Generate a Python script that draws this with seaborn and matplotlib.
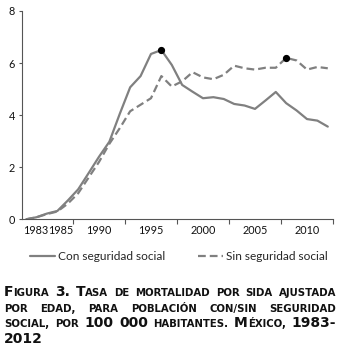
import numpy as np
import pandas as pd
import matplotlib
matplotlib.use('Agg')
import matplotlib.pyplot as plt
import seaborn as sns
from matplotlib.lines import Line2D

# Tasa de mortalidad por sida ajustada por edad (por 100 000 habitantes)
years = list(range(1983, 2013))
con_seguridad = [0.0, 0.08, 0.22, 0.32, 0.72, 1.15, 1.77, 2.4, 2.98, 4.05,
                 5.07, 5.5, 6.35, 6.5, 5.93, 5.16, 4.9, 4.65, 4.69, 4.62,
                 4.43, 4.37, 4.24, 4.56, 4.89, 4.46, 4.18, 3.85, 3.79, 3.56]
sin_seguridad = [0.0, 0.08, 0.2, 0.3, 0.6, 1.0, 1.6, 2.2, 2.9, 3.5,
                 4.15, 4.4, 4.65, 5.5, 5.1, 5.3, 5.65, 5.45, 5.38, 5.55,
                 5.9, 5.8, 5.75, 5.82, 5.82, 6.2, 6.1, 5.75, 5.85, 5.8]
peak_con = 1996
peak_sin = 2008

tick_labels = ['1983', '1985', '1990', '1995', '2000', '2005', '2010']
tick_pos = [1983.9, 1986.3, 1990, 1995, 2000, 2005, 2010]

df = pd.DataFrame({'year': years, 'con': con_seguridad, 'sin': sin_seguridad})

sns.set_style('white')
plt.rcParams['font.family'] = ['Lato', 'DejaVu Sans']

fig = plt.figure(figsize=(3.41, 3.57), dpi=100)
ax = fig.add_axes([0.0645, 0.3857, 0.912, 0.5835])

line_color = '#808080'
sns.lineplot(data=df, x='year', y='con', ax=ax, color=line_color, lw=1.6)
sns.lineplot(data=df, x='year', y='sin', ax=ax, color=line_color, lw=1.6,
             linestyle=(0, (3.5, 1.8)))
ax.plot([peak_con], [df.loc[df.year == peak_con, 'con'].iloc[0]], 'o', color='black', ms=4.2, zorder=5)
ax.plot([peak_sin], [df.loc[df.year == peak_sin, 'sin'].iloc[0]], 'o', color='black', ms=4.2, zorder=5)

ax.set_xlim(1982.6, 2012.5)
ax.set_ylim(0, 8)
ax.set_xlabel('')
ax.set_ylabel('')
ax.set_yticks([0, 2, 4, 6, 8])
ax.set_xticks(tick_pos)
ax.set_xticklabels(tick_labels)
ax.set_xticks([1987.5, 1992.5, 1997.5, 2002.5, 2007.5, 2012.5], minor=True)
ax.tick_params(axis='x', which='major', length=0, pad=4, labelsize=7.8, colors='#111111')
ax.tick_params(axis='x', which='minor', length=3.5, width=0.8, color='#555555', direction='out', bottom=True)
ax.tick_params(axis='y', length=2.2, width=0.8, color='#555555', pad=3, labelsize=7.8,
               labelcolor='#111111', direction='out', left=True)
sns.despine(ax=ax)
for side in ['left', 'bottom']:
    ax.spines[side].set_color('#555555')
    ax.spines[side].set_linewidth(0.8)

handles = [Line2D([], [], color=line_color, lw=1.6),
           Line2D([], [], color=line_color, lw=1.6, linestyle=(0, (3.5, 1.8)))]
fig.legend(handles, ['Con seguridad social', 'Sin seguridad social'],
           loc='center', bbox_to_anchor=(179 / 341, 1 - 257 / 357), ncol=2, frameon=False,
           fontsize=8.6, handlelength=2.1, handletextpad=0.25, columnspacing=2.7)

# Pie de figura en versalitas, justificado
big, small = 10, 7.3
caption = [
    [[('F', big), ('IGURA', small)], [('3.', big)], [('T', big), ('ASA', small)], [('DE', small)],
     [('MORTALIDAD', small)], [('POR', small)], [('SIDA', small)], [('AJUSTADA', small)]],
    [[('POR', small)], [('EDAD,', small)], [('PARA', small)], [('POBLACIÓN', small)],
     [('CON/SIN', small)], [('SEGURIDAD', small)]],
    [[('SOCIAL,', small)], [('POR', small)], [('100', big)], [('000', big)],
     [('HABITANTES.', small)], [('M', big), ('ÉXICO,', small)], [('1983-', big)]],
    [[('2012', big)]],
]
line_y = [296, 311.7, 327, 342.7]
x_left, x_right = 4, 336
cap_font = ['DejaVu Sans']

renderer = fig.canvas.get_renderer()

def seg_width(s, size):
    t = fig.text(0, 0, s, fontsize=size, fontweight='bold', family=cap_font)
    w = t.get_window_extent(renderer).width
    t.remove()
    return w

for i, words in enumerate(caption):
    widths = [sum(seg_width(s, sz) for s, sz in w) for w in words]
    if i < len(caption) - 1:
        gap = (x_right - x_left - sum(widths)) / (len(words) - 1)
    else:
        gap = seg_width(' ', big)
    x = x_left
    for w, wd in zip(words, widths):
        xx = x
        for s, sz in w:
            fig.text(xx / 341, 1 - line_y[i] / 357, s, fontsize=sz, fontweight='bold',
                     family=cap_font, va='baseline', ha='left', color='#111111')
            xx += seg_width(s, sz)
        x += wd + gap

fig.savefig('out.png', dpi=100)
